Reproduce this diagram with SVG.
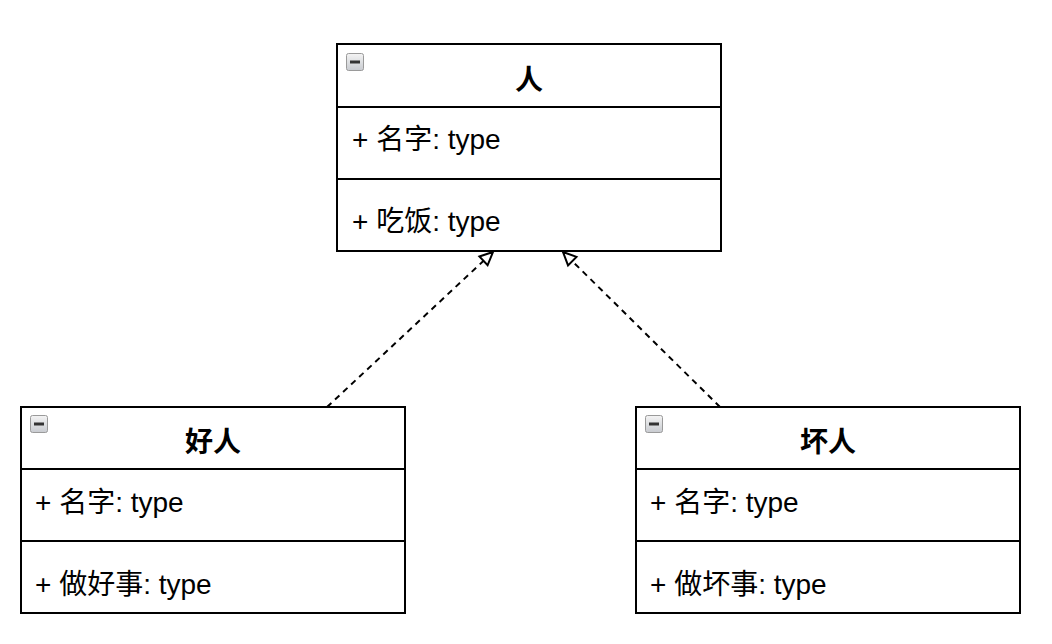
<svg xmlns="http://www.w3.org/2000/svg" width="1052" height="644" viewBox="0 0 1052 644">
  <style>
    .box { fill: #ffffff; stroke: #000000; stroke-width: 2; }
    .div { stroke: #000000; stroke-width: 2; fill: none; }
    .title { font-family: "Liberation Sans", "Noto Sans CJK SC", sans-serif; font-size: 28px; font-weight: bold; fill: #000; text-anchor: middle; }
    .attr { font-family: "Liberation Sans", "Noto Sans CJK SC", sans-serif; font-size: 28px; fill: #000; }
    .edge { stroke: #000000; stroke-width: 2; stroke-dasharray: 6 5; fill: none; }
    .iconbox { fill: url(#ig); stroke: #9a9a9a; stroke-width: 1; }
    .iconbar { fill: #333333; }
  </style>
  <defs>
    <linearGradient id="ig" x1="0" y1="0" x2="0" y2="1">
      <stop offset="0" stop-color="#f4f4f4"/>
      <stop offset="1" stop-color="#c8cbd0"/>
    </linearGradient>
    <marker id="open" markerUnits="userSpaceOnUse" markerWidth="20" markerHeight="20" viewBox="0 0 20 20" refX="16" refY="10" orient="auto">
      <path d="M3,4 L16,10 L3,16 Z" fill="#ffffff" stroke="#000000" stroke-width="2" stroke-linejoin="miter"/>
    </marker>
    <g id="icon">
      <rect class="iconbox" x="0.5" y="0.5" width="17" height="17" rx="2"/>
      <rect class="iconbar" x="4" y="7.5" width="10" height="3"/>
    </g>
  </defs>

  <g id="connectors">
    <line class="edge" x1="327" y1="407" x2="493" y2="252" marker-end="url(#open)"/>
    <line class="edge" x1="720" y1="407" x2="563" y2="252" marker-end="url(#open)"/>
  </g>

  <g id="node-ren">
    <rect class="box" x="337" y="44" width="384" height="207"/>
    <line class="div" x1="337" y1="107" x2="721" y2="107"/>
    <line class="div" x1="337" y1="179" x2="721" y2="179"/>
    <use href="#icon" x="346" y="53"/>
    <text class="title" x="529" y="90">人</text>
    <text class="attr" x="352" y="149">+ 名字: type</text>
    <text class="attr" x="352" y="231">+ 吃饭: type</text>
  </g>

  <g id="node-haoren">
    <rect class="box" x="21" y="407" width="384" height="206"/>
    <line class="div" x1="21" y1="469" x2="405" y2="469"/>
    <line class="div" x1="21" y1="541" x2="405" y2="541"/>
    <use href="#icon" x="30" y="415"/>
    <text class="title" x="213" y="452">好人</text>
    <text class="attr" x="35" y="512">+ 名字: type</text>
    <text class="attr" x="35" y="594">+ 做好事: type</text>
  </g>

  <g id="node-huairen">
    <rect class="box" x="636" y="407" width="384" height="206"/>
    <line class="div" x1="636" y1="469" x2="1020" y2="469"/>
    <line class="div" x1="636" y1="541" x2="1020" y2="541"/>
    <use href="#icon" x="645" y="415"/>
    <text class="title" x="828" y="452">坏人</text>
    <text class="attr" x="650" y="512">+ 名字: type</text>
    <text class="attr" x="650" y="594">+ 做坏事: type</text>
  </g>
</svg>
